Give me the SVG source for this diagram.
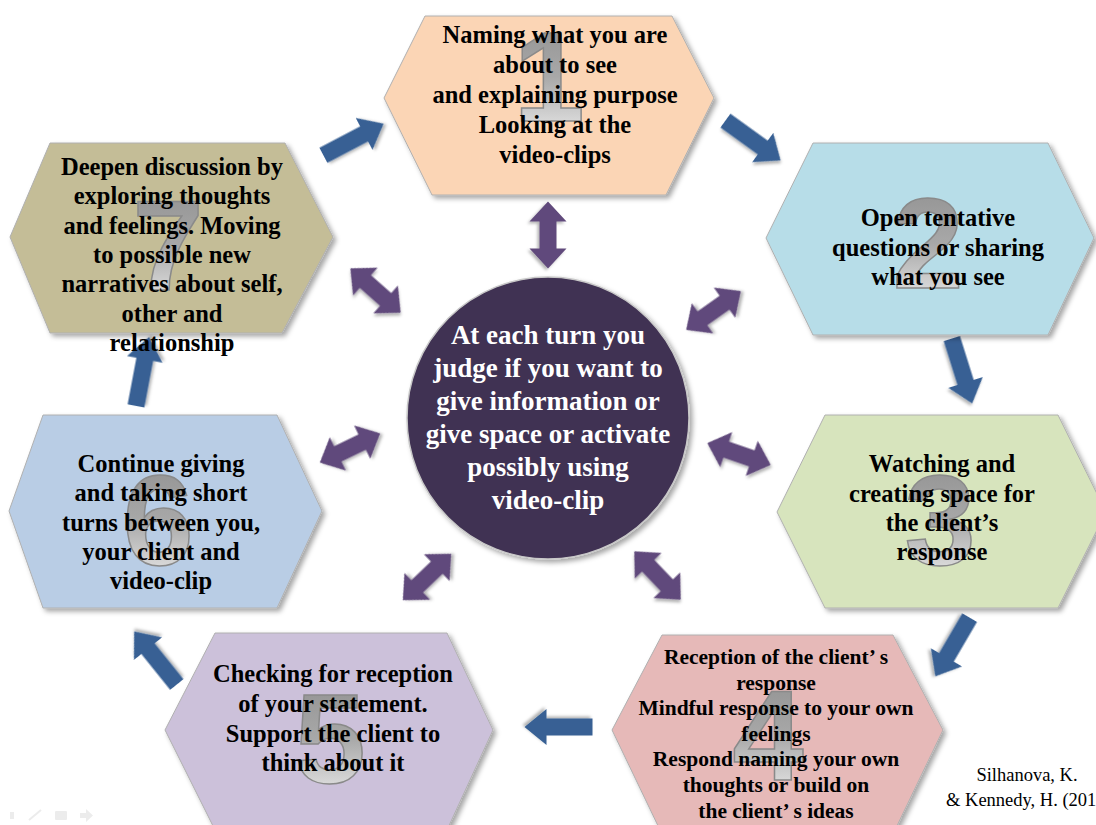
<svg xmlns="http://www.w3.org/2000/svg" xmlns:xlink="http://www.w3.org/1999/xlink" width="1096" height="825" viewBox="0 0 1096 825">
<defs>
<filter id="sh" x="-20%" y="-20%" width="140%" height="140%">
<feDropShadow dx="3" dy="3" stdDeviation="2.5" flood-color="#000" flood-opacity="0.35"/>
</filter>
<filter id="ash" x="-30%" y="-30%" width="160%" height="160%">
<feDropShadow dx="2" dy="2" stdDeviation="1.5" flood-color="#000" flood-opacity="0.3"/>
</filter>
<linearGradient id="dig" x1="0" y1="0" x2="0" y2="1">
<stop offset="0" stop-color="#8e8e8e"/>
<stop offset="0.5" stop-color="#a8a8a8"/>
<stop offset="1" stop-color="#f4f4f4"/>
</linearGradient>
<path id="sgl" d="M-34,-8.5 L12,-8.5 L12,-18 L34,0 L12,18 L12,8.5 L-34,8.5 Z"/>
<path id="dbl" d="M-33.5,0 L-13.5,-18.5 L-13.5,-8.5 L13.5,-8.5 L13.5,-18.5 L33.5,0 L13.5,18.5 L13.5,8.5 L-13.5,8.5 L-13.5,18.5 Z"/>
<style>
.hex{stroke:#b0b0b0;stroke-width:1;filter:url(#sh)}
.dg{font-family:"Liberation Sans",Arial,sans-serif;font-weight:bold;font-size:128px;fill:url(#dig);stroke:#8a8a8a;stroke-width:1.5;text-anchor:middle}
.t{font-family:"Liberation Serif","Times New Roman",serif;font-weight:bold;font-size:24.5px;fill:#000;text-anchor:middle}
.t4{font-size:21.5px}
.ct{font-family:"Liberation Serif","Times New Roman",serif;font-weight:bold;font-size:27px;fill:#fff;text-anchor:middle}
.blue{fill:#386194;filter:url(#ash)}
.purp{fill:#604A7B;filter:url(#ash)}
.cite{font-family:"Liberation Serif","Times New Roman",serif;font-size:18.5px;fill:#000}
.nav{fill:#ececec}
</style>
</defs>
<rect width="1096" height="825" fill="#fff"/>

<g id="connectors">
<use href="#sgl" class="blue" transform="translate(353.5,139.5) rotate(-27.7)"/>
<use href="#sgl" class="blue" transform="translate(753,140.5) rotate(35.8)"/>
<use href="#sgl" class="blue" transform="translate(962,371) rotate(72.6)"/>
<use href="#sgl" class="blue" transform="translate(952.5,647) rotate(120.3)"/>
<use href="#sgl" class="blue" transform="translate(558.5,727) rotate(180)"/>
<use href="#sgl" class="blue" transform="translate(155.5,658) rotate(-128.8)"/>
<use href="#sgl" class="blue" transform="translate(142.5,371.5) rotate(-79.3) scale(1.03,1)"/>
<use href="#dbl" class="purp" transform="translate(548,235) rotate(90)"/>
<use href="#dbl" class="purp" transform="translate(375.5,290.5) rotate(41.4)"/>
<use href="#dbl" class="purp" transform="translate(713.5,310.5) rotate(-35.3)"/>
<use href="#dbl" class="purp" transform="translate(350,448) rotate(-25.8)"/>
<use href="#dbl" class="purp" transform="translate(739,454) rotate(19)"/>
<use href="#dbl" class="purp" transform="translate(427,577) rotate(-43.8)"/>
<use href="#dbl" class="purp" transform="translate(657.5,575.5) rotate(46.2)"/>
</g>

<g id="node1">
<polygon class="hex" fill="#FBD5B5" points="425,16 672,16 714,98 666,195 432,195 384,98"/>
<text class="dg" x="549" y="121">1</text>
<text class="t" x="555"><tspan x="555" y="43">Naming what you are</tspan><tspan x="555" y="73">about to see</tspan><tspan x="555" y="103">and explaining purpose</tspan><tspan x="555" y="133">Looking at the</tspan><tspan x="555" y="163">video-clips</tspan></text>
</g>

<g id="node2">
<polygon class="hex" fill="#B7DDE8" points="813,143 1048,143 1094,238 1048,335 813,335 766,238"/>
<text class="dg" x="928" y="288">2</text>
<text class="t"><tspan x="938" y="226">Open tentative</tspan><tspan x="938" y="256">questions or sharing</tspan><tspan x="938" y="285">what you see</tspan></text>
</g>

<g id="node3">
<polygon class="hex" fill="#D7E4BD" points="825,415 1058,415 1106,512 1058,608 825,608 777,512"/>
<text class="dg" x="940" y="565">3</text>
<text class="t"><tspan x="942" y="472">Watching and</tspan><tspan x="942" y="502">creating space for</tspan><tspan x="942" y="531">the client’s</tspan><tspan x="942" y="560">response</tspan></text>
</g>

<g id="node4">
<polygon class="hex" fill="#E6B9B8" points="662,635 893,635 943,730 895,830 660,830 612,730"/>
<text class="dg" x="768" y="780">4</text>
<text class="t t4"><tspan x="776" y="664">Reception of the client’ s</tspan><tspan x="776" y="690">response</tspan><tspan x="776" y="715">Mindful response to your own</tspan><tspan x="776" y="741">feelings</tspan><tspan x="776" y="766">Respond naming your own</tspan><tspan x="776" y="792">thoughts or build on</tspan><tspan x="776" y="818">the client’ s ideas</tspan></text>
</g>

<g id="node5">
<polygon class="hex" fill="#CCC1DA" points="215,633 447,633 493,730 447,830 215,830 165,730"/>
<text class="dg" x="330" y="783">5</text>
<text class="t"><tspan x="333" y="682">Checking for reception</tspan><tspan x="333" y="712">of your statement.</tspan><tspan x="333" y="742">Support the client to</tspan><tspan x="333" y="771">think about it</tspan></text>
</g>

<g id="node6">
<polygon class="hex" fill="#B9CDE5" points="43,415 277,415 322,511 277,608 43,608 9,511"/>
<text class="dg" x="158" y="565">6</text>
<text class="t"><tspan x="161" y="472">Continue giving</tspan><tspan x="161" y="501">and taking short</tspan><tspan x="161" y="531">turns between you,</tspan><tspan x="161" y="560">your client and</tspan><tspan x="161" y="589">video-clip</tspan></text>
</g>

<g id="node7">
<polygon class="hex" fill="#C4BD97" points="50,143 285,143 333,237 282,333 50,333 10,237"/>
<text class="dg" x="168" y="290">7</text>
<text class="t"><tspan x="172" y="175">Deepen discussion by</tspan><tspan x="172" y="204">exploring thoughts</tspan><tspan x="172" y="234">and feelings. Moving</tspan><tspan x="172" y="263">to possible new</tspan><tspan x="172" y="292">narratives about self,</tspan><tspan x="172" y="322">other and</tspan><tspan x="172" y="351">relationship</tspan></text>
</g>

<g id="center">
<circle cx="548" cy="418" r="141" fill="#403152" stroke="#c8c8c8" stroke-width="1.5" filter="url(#sh)"/>
<text class="ct"><tspan x="548" y="344">At each turn you</tspan><tspan x="548" y="377">judge if you want to</tspan><tspan x="548" y="410">give information  or</tspan><tspan x="548" y="443">give space or activate</tspan><tspan x="548" y="476">possibly using</tspan><tspan x="548" y="509">video-clip</tspan></text>
</g>

<g id="citation">
<text class="cite" x="1027" y="781" text-anchor="middle">Silhanova, K.</text>
<text class="cite" x="946" y="806">&amp; Kennedy, H. (201</text>
</g>

<g id="nav">
<rect class="nav" x="10" y="812" width="4" height="7"/>
<path d="M29,820 L41,810" stroke="#ececec" stroke-width="2" fill="none"/>
<rect class="nav" x="55" y="811" width="12" height="9" rx="1"/>
<path class="nav" d="M80,813 L86,813 L86,809 L93,815.5 L86,822 L86,818 L80,818 Z"/>
</g>
</svg>
